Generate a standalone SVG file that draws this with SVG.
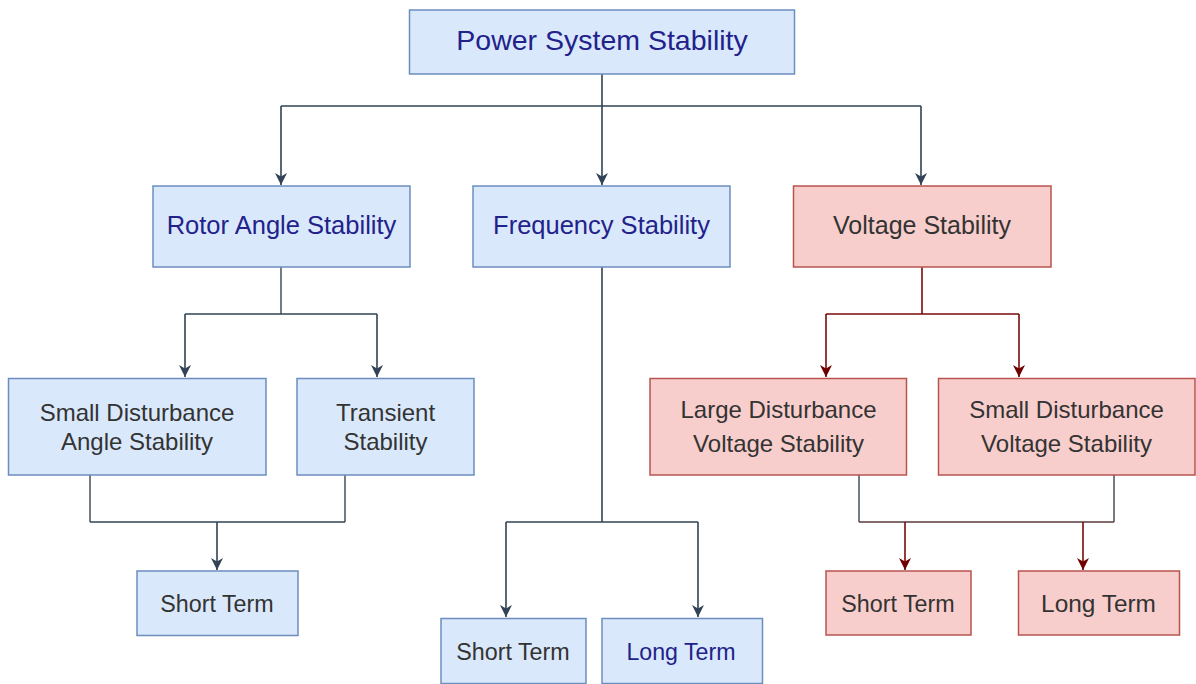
<svg xmlns="http://www.w3.org/2000/svg" width="1196" height="684" viewBox="0 0 1196 684">
<defs>
<style>
.b{fill:#dae8fc;stroke:#6c8ebf;stroke-width:1.5}
.r{fill:#f8cecc;stroke:#b85450;stroke-width:1.5}
text{font-family:"Liberation Sans",Arial,Helvetica,sans-serif;text-anchor:middle}
.nv{fill:#22228a}
.dk{fill:#333333}
.cb{fill:none;stroke:#314354;stroke-width:1.6}
.cg{fill:none;stroke:#505a64;stroke-width:1.6}
.cr{fill:none;stroke:#7a0a0a;stroke-width:1.6}
.cgr{fill:none;stroke:#5a3a3a;stroke-width:1.6}
</style>
<marker id="ab" markerUnits="userSpaceOnUse" markerWidth="13" markerHeight="13" refX="12" refY="6.5" orient="auto" viewBox="0 0 13 13">
<path d="M0,0.5 L12,6.5 L0,12.5 L3.5,6.5 Z" fill="#314354"/>
</marker>
<marker id="ar" markerUnits="userSpaceOnUse" markerWidth="13" markerHeight="13" refX="12" refY="6.5" orient="auto" viewBox="0 0 13 13">
<path d="M0,0.5 L12,6.5 L0,12.5 L3.5,6.5 Z" fill="#6f0000"/>
</marker>
</defs>
<rect width="1196" height="684" fill="#ffffff"/>
<g id="connectors">
<path class="cb" d="M602,74 V106"/>
<path class="cb" d="M281,106 H921"/>
<path class="cb" d="M281,106 V185" marker-end="url(#ab)"/>
<path class="cb" d="M602,106 V185" marker-end="url(#ab)"/>
<path class="cb" d="M921,106 V185" marker-end="url(#ab)"/>
<path class="cg" d="M281,267 V314"/>
<path class="cb" d="M185,314 H377"/>
<path class="cb" d="M185,314 V377" marker-end="url(#ab)"/>
<path class="cb" d="M377,314 V377" marker-end="url(#ab)"/>
<path class="cg" d="M90,475 V522"/>
<path class="cg" d="M345,475 V522"/>
<path class="cb" d="M90,522 H345"/>
<path class="cb" d="M217,522 V570" marker-end="url(#ab)"/>
<path class="cb" d="M602,267 V522"/>
<path class="cb" d="M506,522 H698"/>
<path class="cb" d="M506,522 V617" marker-end="url(#ab)"/>
<path class="cb" d="M698,522 V617" marker-end="url(#ab)"/>
<path class="cr" d="M922,267 V314"/>
<path class="cr" d="M826,314 H1019"/>
<path class="cr" d="M826,314 V377" marker-end="url(#ar)"/>
<path class="cr" d="M1019,314 V377" marker-end="url(#ar)"/>
<path class="cg" d="M859,475 V522"/>
<path class="cg" d="M1114,475 V522"/>
<path class="cgr" d="M859,522 H1114"/>
<path class="cr" d="M905,522 V570" marker-end="url(#ar)"/>
<path class="cr" d="M1083,522 V570" marker-end="url(#ar)"/>
</g>
<g id="power-system-stability">
<rect class="b" x="409.5" y="10" width="385" height="64"/>
<text class="nv" x="602" y="50" font-size="28.5">Power System Stability</text>
</g>
<g id="rotor-angle-stability">
<rect class="b" x="153" y="186" width="257" height="81"/>
<text class="nv" x="281.5" y="234" font-size="25.5">Rotor Angle Stability</text>
</g>
<g id="frequency-stability">
<rect class="b" x="473" y="186" width="257" height="81"/>
<text class="nv" x="601.5" y="234" font-size="25.5">Frequency Stability</text>
</g>
<g id="voltage-stability">
<rect class="r" x="793.5" y="186" width="257.5" height="81"/>
<text class="dk" x="922" y="234" font-size="25">Voltage Stability</text>
</g>
<g id="small-disturbance-angle-stability">
<rect class="b" x="8.5" y="378.5" width="257.5" height="96.5"/>
<text class="dk" x="137" y="420.5" font-size="24">Small Disturbance</text>
<text class="dk" x="137" y="449.5" font-size="24">Angle Stability</text>
</g>
<g id="transient-stability">
<rect class="b" x="297" y="378.5" width="177" height="96.5"/>
<text class="dk" x="385.5" y="420.5" font-size="24">Transient</text>
<text class="dk" x="385.5" y="449.5" font-size="24">Stability</text>
</g>
<g id="rotor-short-term">
<rect class="b" x="137" y="571" width="161" height="64.5"/>
<text class="dk" x="217" y="611.5" font-size="23.3">Short Term</text>
</g>
<g id="frequency-short-term">
<rect class="b" x="441" y="618.5" width="145" height="65"/>
<text class="dk" x="513" y="659.5" font-size="23.3">Short Term</text>
</g>
<g id="frequency-long-term">
<rect class="b" x="602" y="618.5" width="160.5" height="65"/>
<text class="nv" x="681" y="659.5" font-size="23.2">Long Term</text>
</g>
<g id="large-disturbance-voltage-stability">
<rect class="r" x="650" y="378.5" width="256.5" height="96.5"/>
<text class="dk" x="778.5" y="417.5" font-size="24">Large Disturbance</text>
<text class="dk" x="778.5" y="451.5" font-size="24">Voltage Stability</text>
</g>
<g id="small-disturbance-voltage-stability">
<rect class="r" x="938.5" y="378.5" width="256.5" height="96.5"/>
<text class="dk" x="1066.5" y="417.5" font-size="24">Small Disturbance</text>
<text class="dk" x="1066.5" y="451.5" font-size="24">Voltage Stability</text>
</g>
<g id="voltage-short-term">
<rect class="r" x="826" y="571" width="145" height="64"/>
<text class="dk" x="898" y="611.5" font-size="23.3">Short Term</text>
</g>
<g id="voltage-long-term">
<rect class="r" x="1018.5" y="571" width="161" height="64"/>
<text class="dk" x="1098.5" y="611.5" font-size="24.4">Long Term</text>
</g>
</svg>
